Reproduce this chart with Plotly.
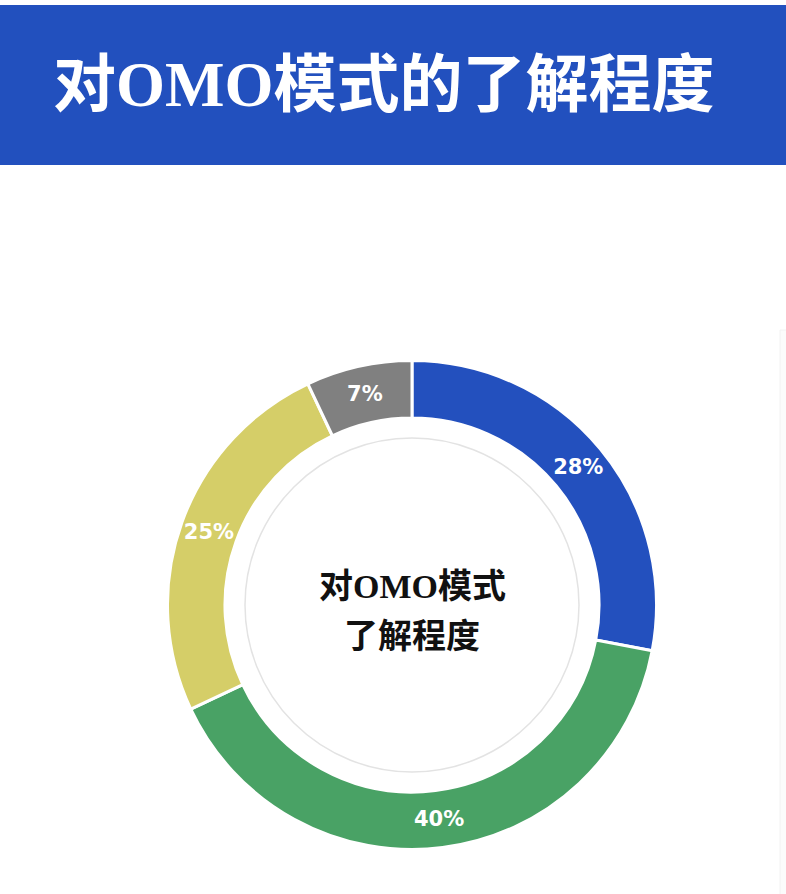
import plotly.graph_objects as go

# Data
labels = ["了解", "一般了解", "不太了解", "不了解"]
values = [28, 40, 25, 7]
colors = ["#2350BE", "#49A265", "#D5CE68", "#808080"]
title_text = "对OMO模式的了解程度"
center_lines = ["对OMO模式", "了解程度"]

W, H = 786, 894
cx, cy, R = 412, 605, 244.5  # pixel geometry (from top)


def px(x):
    return x / W


def py(y):
    return (H - y) / H


fig = go.Figure()
fig.add_trace(go.Pie(
    labels=labels,
    values=values,
    hole=0.765,
    sort=False,
    direction="clockwise",
    rotation=0,
    marker=dict(colors=colors, line=dict(color="white", width=3)),
    textinfo="percent",
    texttemplate="%{percent:.0%}",
    textposition="inside",
    insidetextorientation="horizontal",
    textfont=dict(family="DejaVu Sans, sans-serif", size=21, color="white", weight="bold"),
    showlegend=False,
    hoverinfo="label+percent",
    domain=dict(x=[px(cx - R), px(cx + R)], y=[py(cy + R), py(cy - R)]),
))

shapes = [
    # header banner
    dict(type="rect", xref="paper", yref="paper", x0=0, x1=1, y0=py(165), y1=py(5),
         fillcolor="#2250BE", line=dict(width=0), layer="below"),
    # faint card at right
    dict(type="rect", xref="paper", yref="paper", x0=px(780), x1=px(800), y0=py(900), y1=py(330),
         fillcolor="#FBFBFB", line=dict(color="#F2F2F2", width=1), layer="below"),
    # inner thin circle
    dict(type="circle", xref="paper", yref="paper",
         x0=px(cx - 167), x1=px(cx + 167), y0=py(cy + 167), y1=py(cy - 167),
         line=dict(color="#E3E3E3", width=1.5), fillcolor="rgba(0,0,0,0)"),
]

serif = "Liberation Serif, Noto Sans CJK SC, serif"
annotations = [
    dict(text=title_text, xref="paper", yref="paper", x=px(51), y=py(85),
         xanchor="left", yanchor="middle", showarrow=False,
         font=dict(family=serif, size=63, color="white", weight="bold")),
    dict(text=center_lines[0], xref="paper", yref="paper", x=px(cx), y=py(586),
         xanchor="center", yanchor="middle", showarrow=False,
         font=dict(family=serif, size=34, color="#111111", weight="bold")),
    dict(text=center_lines[1], xref="paper", yref="paper", x=px(cx), y=py(636),
         xanchor="center", yanchor="middle", showarrow=False,
         font=dict(family=serif, size=34, color="#111111", weight="bold")),
]

fig.update_layout(
    width=W, height=H,
    margin=dict(l=0, r=0, t=0, b=0),
    paper_bgcolor="white",
    plot_bgcolor="white",
    shapes=shapes,
    annotations=annotations,
)

fig.write_html("out.html", config={"displayModeBar": False},
               post_script="document.body.style.margin='0';document.body.style.overflow='hidden';")
